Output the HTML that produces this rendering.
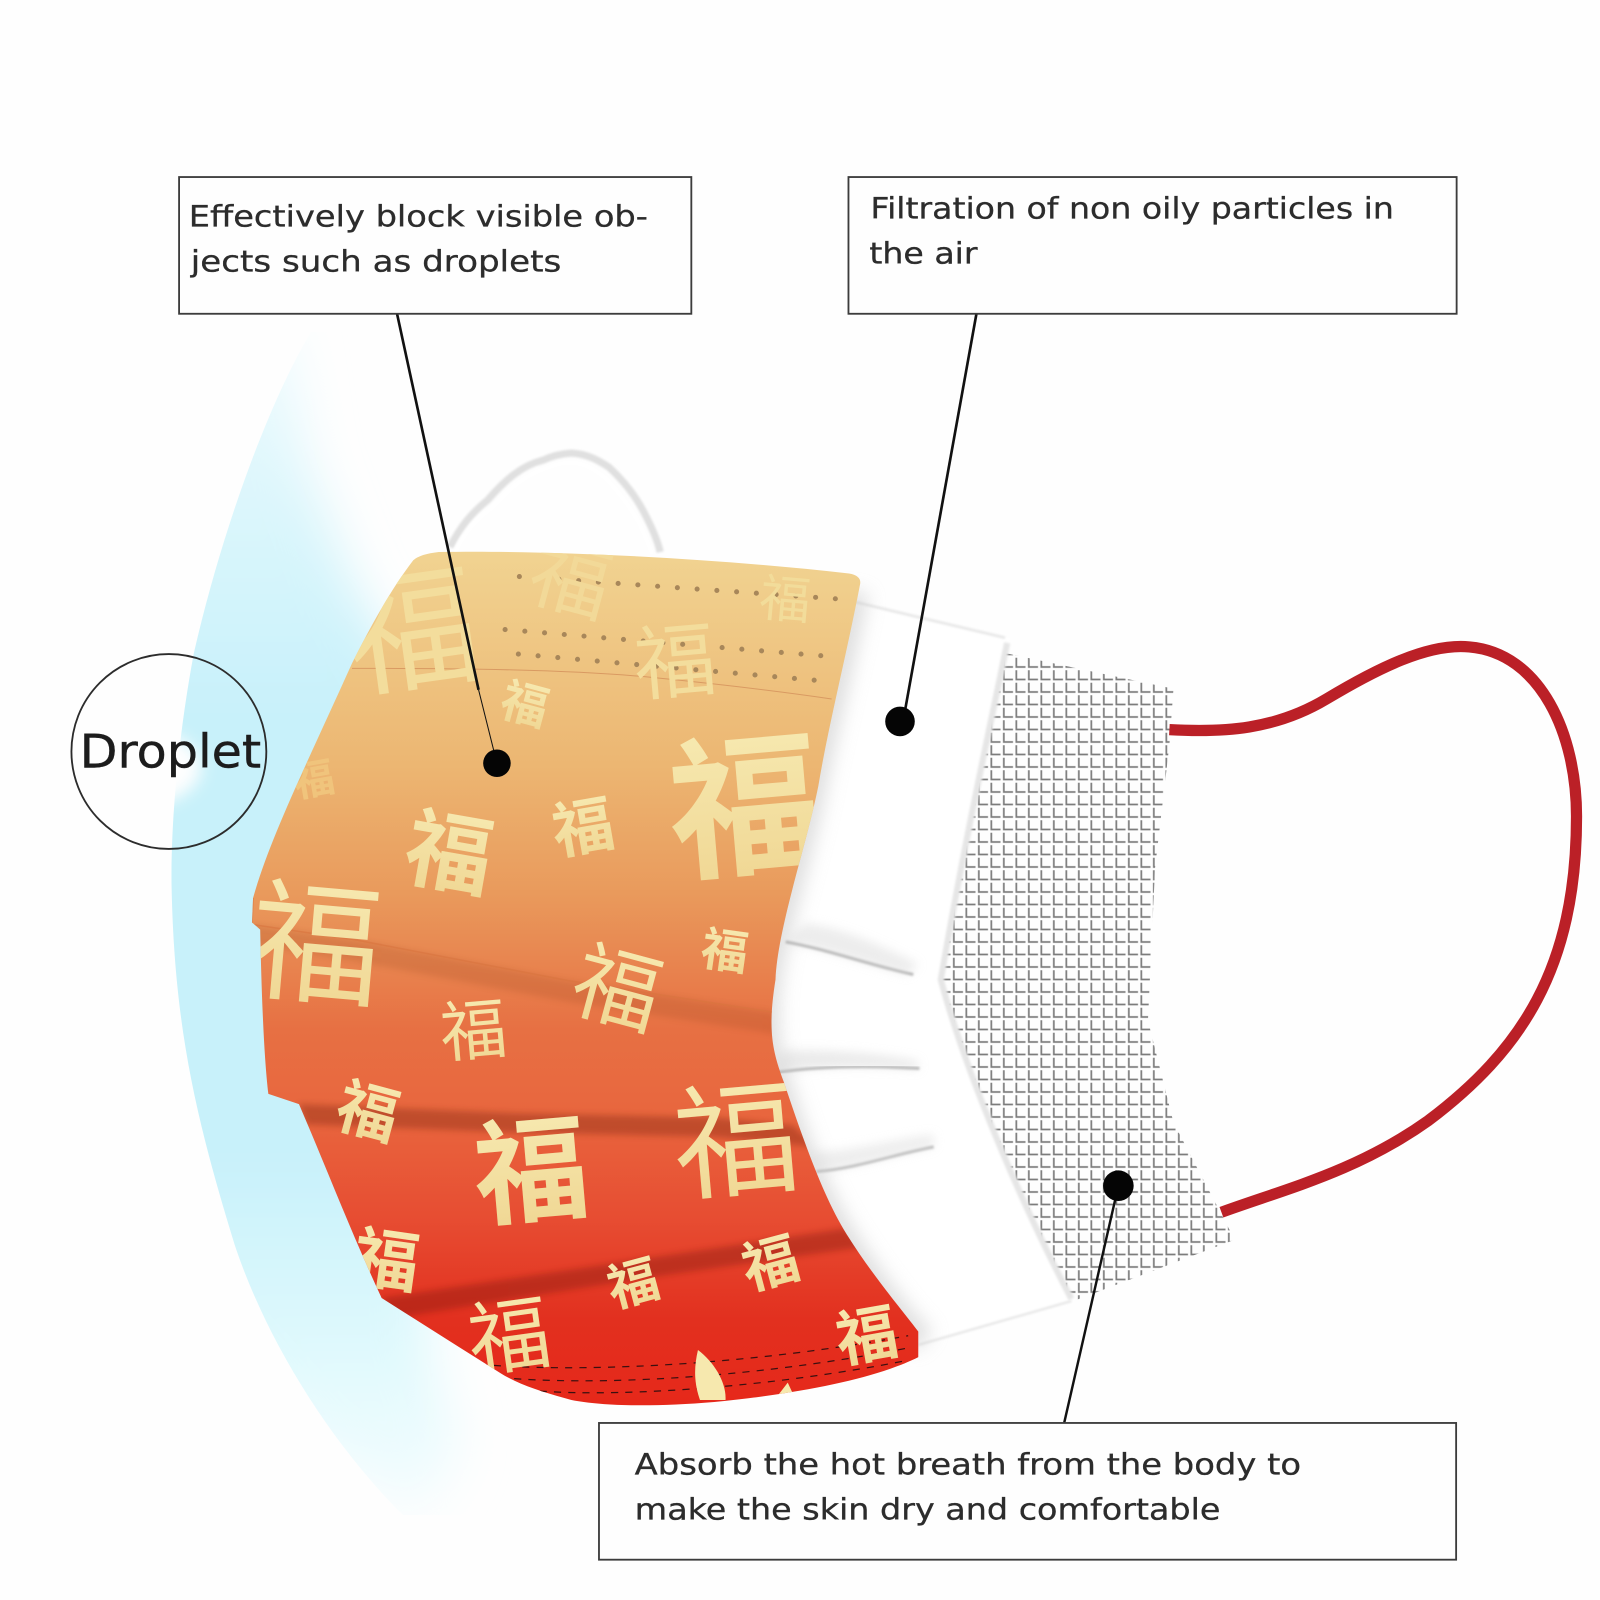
<!DOCTYPE html>
<html><head><meta charset="utf-8"><style>
html,body{margin:0;padding:0;background:#fefefe;width:1600px;height:1600px;overflow:hidden}
svg{display:block}
text.t{font-family:"DejaVu Sans","Liberation Sans",sans-serif;fill:#2c2c2c;stroke:#2c2c2c;stroke-width:.3;font-size:29px}
text.f{font-family:"Noto Sans CJK SC","Noto Sans CJK JP",sans-serif;font-weight:700;fill:url(#fu);text-anchor:middle}
text.n{font-weight:400}
text.p{font-family:"Noto Sans CJK SC",sans-serif;font-weight:700;text-anchor:middle;fill:#f3dd9c}
</style></head><body>
<svg width="1600" height="1600" viewBox="0 0 1568 1568" xmlns="http://www.w3.org/2000/svg">
<defs>
<linearGradient id="m" x1="0" y1="541" x2="0" y2="1377" gradientUnits="userSpaceOnUse">
<stop offset="0" stop-color="#f1d391"/><stop offset=".25" stop-color="#ecb672"/><stop offset=".4" stop-color="#e99a5c"/><stop offset=".56" stop-color="#e77043"/><stop offset=".66" stop-color="#e8663e"/><stop offset=".78" stop-color="#e74d32"/><stop offset=".9" stop-color="#e2301f"/><stop offset="1" stop-color="#e6281a"/>
</linearGradient>
<linearGradient id="fu" x1="0" y1="0" x2="0" y2="1">
<stop offset="0" stop-color="#f8eeb8"/><stop offset="1" stop-color="#efd48f"/>
</linearGradient>
<linearGradient id="h" x1="0" y1="330" x2="0" y2="1480" gradientUnits="userSpaceOnUse">
<stop offset="0" stop-color="#eefbfe"/><stop offset=".15" stop-color="#dbf6fc"/><stop offset=".32" stop-color="#c8f1fa"/><stop offset=".7" stop-color="#c8f1fa"/><stop offset=".86" stop-color="#dff9fd"/><stop offset="1" stop-color="#f5fdfe"/>
</linearGradient>
<clipPath id="hc"><path d="M305,325 C260,400 215,530 190,640 C175,720 168,800 168,860 C170,1000 190,1090 230,1220 C260,1310 320,1410 395,1485 L900,1485 L900,325Z"/></clipPath>
<filter id="b05" x="-10%" y="-10%" width="120%" height="120%"><feGaussianBlur stdDeviation="1"/></filter>
<filter id="b1" x="-10%" y="-50%" width="120%" height="200%"><feGaussianBlur stdDeviation="3"/></filter>
<filter id="b" x="-20%" y="-50%" width="140%" height="200%"><feGaussianBlur stdDeviation="5"/></filter>
<filter id="b4" x="-20%" y="-20%" width="140%" height="140%"><feGaussianBlur stdDeviation="9"/></filter>
<filter id="b3" x="-60%" y="-80%" width="220%" height="260%"><feGaussianBlur stdDeviation="8"/></filter>
<filter id="bh" x="-30%" y="-10%" width="160%" height="120%"><feGaussianBlur stdDeviation="24"/></filter>
<pattern id="g" width="12.25" height="12.25" patternUnits="userSpaceOnUse" patternTransform="translate(994 643.600)">
<path d="M2,1V10H11" fill="none" stroke="#7c7c7c" stroke-width="1.7"/>
</pattern>
<clipPath id="c"><path d="M405,549 Q412,543 430,541 C540,539 700,547 832,562 Q844,564 843,572 C830,640 812,710 802,770 C790,830 762,910 760,960 C752,1010 757,1030 768,1060 C785,1110 805,1170 830,1210 C855,1250 885,1285 900,1305 L900,1330 C860,1350 790,1365 700,1374 C640,1379 590,1378 560,1372 C535,1365 510,1358 491,1346 L448,1319 L374,1272 C345,1210 318,1140 293,1082 L263,1072 C258,1030 256,960 255,911 L247,904 L248,880 C265,820 300,750 345,650 C365,610 385,575 405,549Z"/></clipPath>
</defs>
<rect width="1568" height="1568" fill="#fefefe"/>
<!-- droplet halo -->
<g clip-path="url(#hc)"><path d="M280,310 L300,450 L345,570 L420,700 L420,1200 L420,1320 L450,1420 L410,1490 L300,1420 L100,1200 L100,500Z" fill="url(#h)" filter="url(#bh)"/></g>
<ellipse cx="135" cy="752" rx="62" ry="38" fill="#fefefe" filter="url(#b3)"/>
<!-- ear loop white -->
<path d="M441,536 C452,515 462,503 478,490 C495,470 512,456 532,451 Q545,445 560,444 C575,445 585,450 597,458 C612,472 622,485 630,500 C638,515 644,528 647,541" fill="none" stroke="#e0e0e0" stroke-width="7" filter="url(#b05)"/>
<path d="M446,541 C456,520 468,508 484,496 C500,477 518,464 538,458 C550,453 560,452 570,455 C580,458 588,464 595,470 C608,484 618,498 626,512 C632,525 636,534 639,543" fill="none" stroke="#fff" stroke-width="4" filter="url(#b05)"/>
<!-- inner layer -->
<path d="M835,588 L990,625 C975,700 950,810 920,960 C945,1050 1000,1180 1050,1275 L900,1318 L800,1200 L750,1000 L790,800Z" fill="#fff"/>
<path d="M838,590 L985,625" fill="none" stroke="#e6e6e6" stroke-width="2.500" filter="url(#b05)"/>
<path d="M900,1318 L1050,1275" fill="none" stroke="#e4e4e4" stroke-width="2" filter="url(#b05)"/>
<!-- grid -->
<path d="M985,640 L1150,675 L1146,730 L1132,850 L1125,1000 L1150,1100 L1210,1215 L1052,1275 C1000,1180 945,1050 922,960 C950,810 972,710 985,640Z" fill="url(#g)"/>
<path d="M987,630 C973,700 948,810 922,960 C946,1050 1001,1180 1050,1273" fill="none" stroke="#e6e6e6" stroke-width="6" filter="url(#b05)"/>
<!-- white layer shading -->
<path d="M838,580 C825,650 806,720 795,780 C780,850 757,920 752,965 C748,1010 752,1040 765,1070 C780,1120 800,1170 825,1210 C850,1250 880,1290 905,1315" fill="none" stroke="#c4c4c4" stroke-width="26" opacity=".55" filter="url(#b4)"/>
<path d="M770,923 C810,930 850,945 895,955" fill="none" stroke="#b4b4b4" stroke-width="3" filter="url(#b05)"/>
<path d="M761,1051 C800,1045 850,1044 901,1047" fill="none" stroke="#b4b4b4" stroke-width="3" filter="url(#b05)"/>
<path d="M800,1148 C840,1145 880,1130 915,1124" fill="none" stroke="#bcbcbc" stroke-width="3" filter="url(#b05)"/>
<path d="M790,905 C830,910 870,930 900,945 L890,955 C850,945 810,930 770,923Z" fill="#dadada" opacity=".5" filter="url(#b)"/>
<path d="M765,1030 C810,1028 860,1032 900,1040 L900,1048 C850,1044 800,1045 761,1051Z" fill="#d6d6d6" opacity=".5" filter="url(#b)"/>
<path d="M790,1130 C840,1128 880,1115 915,1112 L915,1124 C880,1130 840,1145 800,1148Z" fill="#dcdcdc" opacity=".5" filter="url(#b)"/>
<!-- red strap -->
<path d="M1146,715 C1200,718 1250,715 1300,685 C1350,655 1400,630 1440,634 C1510,640 1545,720 1545,800 C1545,950 1490,1030 1400,1098 C1330,1148 1260,1165 1197,1188" fill="none" stroke="#bb2027" stroke-width="11"/>
<!-- mask -->
<g clip-path="url(#c)">
<rect x="240" y="530" width="670" height="860" fill="url(#m)"/>
<!-- fold shadows -->
<path d="M247,906 L348,921 L557,961 L758,992 L765,1014 L557,982 L348,942 L250,926Z" fill="#8c3a18" opacity=".17" filter="url(#b1)"/>
<path d="M248,880 L247,906 L348,921 L557,961 L758,992" fill="none" stroke="#d9743f" stroke-width="1.500" opacity=".6"/>
<path d="M293,1082 L507,1091 L700,1095 L777,1103 L800,1124 L700,1114 L507,1110 L300,1102Z" fill="#7a2310" opacity=".36" filter="url(#b1)"/>
<path d="M374,1272 L622,1235 L828,1204 L845,1222 L622,1254 L385,1292Z" fill="#7a1208" opacity=".36" filter="url(#b1)"/>
<!-- crease & dots -->
<path d="M345,655 C450,655 560,656 640,664 C700,670 760,677 815,685" fill="none" stroke="#d99a62" stroke-width="1"/>
<g fill="none" stroke="#a8875a" stroke-width="5" stroke-linecap="round" stroke-dasharray="0 19.400">
<path d="M509,565 L836,588"/>
<path d="M495,617 L821,644"/>
<path d="M508,641 L814,668"/>
</g>
<path d="M470,1337 C560,1345 720,1340 890,1309 M490,1350 C580,1358 730,1352 890,1321 M515,1362 C590,1370 740,1362 885,1334" fill="none" stroke="#3a1010" stroke-width="1.200" stroke-dasharray="7 7"/>
<!-- fu characters -->
<text class="p n" font-size="130" transform="translate(410 665) rotate(-8)" style="font-weight:400">福</text>
<text class="p n" font-size="78" transform="translate(552 595) rotate(15)" style="font-weight:400;fill:#f2d998">福</text>
<text class="p" font-size="50" transform="translate(768 605) rotate(5)" style="font-weight:400;fill:#f2dc9a">福</text>
<text class="p n" font-size="80" transform="translate(664 677) rotate(-5)" style="font-weight:400">福</text>
<text class="f" font-size="46" transform="translate(510 706) rotate(15)">福</text>
<text class="f" font-size="150" transform="translate(735 845) rotate(-5)">福</text>
<text class="f" font-size="85" transform="translate(435 866) rotate(10)">福</text>
<text class="f" font-size="60" transform="translate(575 832) rotate(-10)">福</text>
<text class="p" font-size="40" transform="translate(310 778) rotate(-10)" style="fill:#f0c47c">福</text>
<text class="f n" font-size="130" transform="translate(305 972) rotate(5)">福</text>
<text class="f" font-size="46" transform="translate(708 948) rotate(8)">福</text>
<text class="f n" font-size="85" transform="translate(597 998) rotate(15)">福</text>
<text class="f n" font-size="65" transform="translate(466 1033) rotate(-5)">福</text>
<text class="f" font-size="60" transform="translate(355 1110) rotate(15)">福</text>
<text class="f" font-size="112" transform="translate(524 1188) rotate(-5)">福</text>
<text class="f n" font-size="122" transform="translate(725 1162) rotate(-5)">福</text>
<text class="f" font-size="65" transform="translate(375 1258) rotate(8)">福</text>
<text class="f" font-size="50" transform="translate(625 1275) rotate(-15)">福</text>
<text class="f" font-size="55" transform="translate(760 1257) rotate(-15)">福</text>
<text class="f n" font-size="80" transform="translate(503 1338) rotate(-8)">福</text>
<text class="f" font-size="60" transform="translate(853 1330) rotate(-10)">福</text>
<path d="M684,1323 C700,1335 712,1355 711,1372 L686,1372 C680,1355 680,1340 684,1323Z" fill="#f6e8ae"/>
<path d="M762,1368 L772,1355 L778,1368Z" fill="#f6e8ae"/>
</g>
<!-- leader lines -->
<g stroke="#111" fill="none">
<path d="M389,307 L469,676" stroke-width="2.600"/>
<path d="M469,676 L487,748" stroke-width="1"/>
<path d="M957,307 L885,707" stroke-width="2.600"/>
<path d="M1096,1162 L1043,1394" stroke-width="2.400"/>
</g>
<circle cx="487" cy="748" r="13.500" fill="#050505"/>
<circle cx="882" cy="707" r="14.500" fill="#050505"/>
<circle cx="1096" cy="1162" r="15" fill="#050505"/>
<!-- boxes -->
<g fill="none" stroke="#3c3c3c" stroke-width="1.800">
<rect x="175.500" y="173.500" width="502" height="134"/>
<rect x="831.500" y="173.500" width="596" height="134"/>
<rect x="587" y="1394.500" width="840" height="134"/>
<circle cx="165.500" cy="736.500" r="95.500" stroke="#2c2c2c"/>
</g>
<text class="t" x="185" y="222" textLength="450" lengthAdjust="spacingAndGlyphs">Effectively block visible ob-</text>
<text class="t" x="187" y="266" textLength="363" lengthAdjust="spacingAndGlyphs">jects such as droplets</text>
<text class="t" x="853" y="214" textLength="513" lengthAdjust="spacingAndGlyphs">Filtration of non oily particles in</text>
<text class="t" x="852" y="258" textLength="106" lengthAdjust="spacingAndGlyphs">the air</text>
<text class="t" x="622" y="1445" textLength="653" lengthAdjust="spacingAndGlyphs">Absorb the hot breath from the body to</text>
<text class="t" x="622" y="1489" textLength="574" lengthAdjust="spacingAndGlyphs">make the skin dry and comfortable</text>
<text class="t" x="78" y="752" textLength="178" lengthAdjust="spacingAndGlyphs" style="font-size:45px;fill:#1c1c1c;stroke:#1c1c1c;stroke-width:.4">Droplet</text>
</svg>
</body></html>
